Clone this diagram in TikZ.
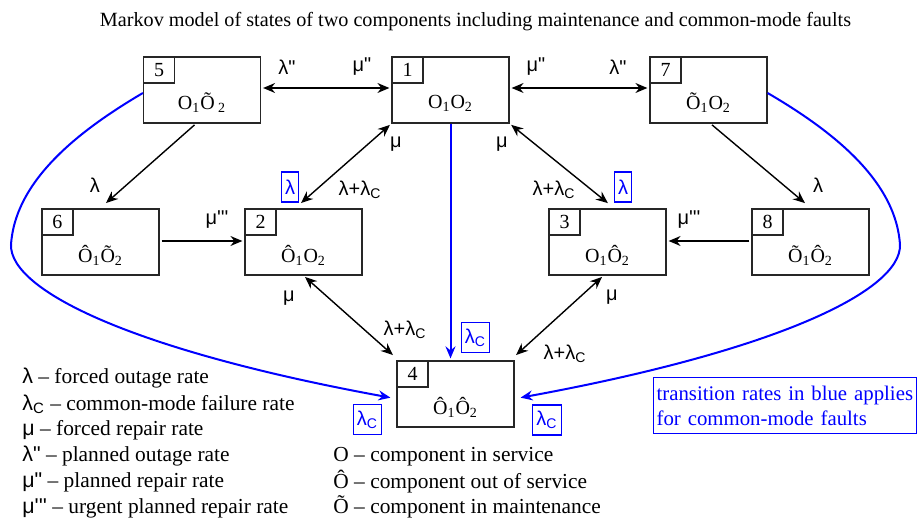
\documentclass[tikz,border=0pt]{standalone}
\usepackage{fontspec}
\setmainfont{Liberation Serif}
\newfontfamily\ratefont{Liberation Sans}[Ligatures=TeXOff]
\usetikzlibrary{arrows.meta,calc,positioning}

\tikzset{
  rtip/.tip={Stealth[length=6pt,width=5pt,inset=2pt]},
  state/.style={draw=black!85,line width=0.6pt,minimum width=58.5pt,minimum height=33pt,inner sep=0pt},
  statenum/.style={draw=black!85,line width=0.6pt,minimum width=15.5pt,minimum height=13pt,inner sep=0pt,anchor=north west},
  statename/.style={inner sep=0pt,yshift=-6.5pt},
  trans/.style={line width=0.7pt,-rtip,shorten >=1pt,shorten <=1pt},
  bitrans/.style={line width=0.7pt,rtip-rtip,shorten >=1pt,shorten <=1pt},
  cmtrans/.style={blue,line width=1pt,-rtip,shorten >=1pt},
  rate/.style={font=\ratefont,inner sep=0pt},
  cmrate/.style={font=\ratefont,draw=blue,text=blue,line width=0.6pt,inner sep=1.8pt,minimum height=15pt},
  legend/.style={anchor=west,inner sep=0pt,font=\fontsize{10.7}{12}\selectfont}
}

\begin{document}
\begin{tikzpicture}[x=0.5pt,y=-0.5pt]
                        \useasboundingbox (0,0) rectangle (917,518);
                        {\fontsize{10}{12}\selectfont

                        % Title
                        \node (title) at (475.5,22) {\fontsize{10.1}{12}\selectfont Markov model of states of two components including maintenance and common-mode faults};%

                        % Drawing states
                        \node [state] (s5) at (202,90) {};%
                        \node [state] (s1) at (450.5,90) {};%
                        \node [state] (s7) at (708.5,90) {};%
                        \node [state] (s6) at (100.5,242) {};%
                        \node [state] (s2) at (303.5,242) {};%
                        \node [state] (s3) at (607.5,242) {};%
                        \node [state] (s8) at (810.5,242) {};%
                        \node [state] (s4) at (455.5,394) {};%

                        % Numbering states
                        \node [statenum] (n5) at (s5.north west) {5};%
                        \node [statenum] (n1) at (s1.north west) {1};%
                        \node [statenum] (n7) at (s7.north west) {7};%
                        \node [statenum] (n6) at (s6.north west) {6};%
                        \node [statenum] (n2) at (s2.north west) {2};%
                        \node [statenum] (n3) at (s3.north west) {3};%
                        \node [statenum] (n8) at (s8.north west) {8};%
                        \node [statenum] (n4) at (s4.north west) {4};%

                        % Naming states
                        \node [statename] (t5) at (s5.center) {O\textsubscript{1}Õ\,\textsubscript{2}};%
                        \node [statename] (t1) at (s1.center) {O\textsubscript{1}O\textsubscript{2}};%
                        \node [statename] (t7) at (s7.center) {Õ\textsubscript{1}O\textsubscript{2}};%
                        \node [statename] (t6) at (s6.center) {Ô\textsubscript{1}Õ\textsubscript{2}};%
                        \node [statename] (t2) at (s2.center) {Ô\textsubscript{1}O\textsubscript{2}};%
                        \node [statename] (t3) at (s3.center) {O\textsubscript{1}Ô\textsubscript{2}};%
                        \node [statename] (t8) at (s8.center) {Õ\textsubscript{1}Ô\textsubscript{2}};%
                        \node [statename] (t4) at (s4.center) {Ô\textsubscript{1}Ô\textsubscript{2}};%

                        % Drawing transitions 5-1 and 1-7
                        \draw [bitrans] ([yshift=1pt]s5.east) -- ([yshift=1pt]s1.west);%
                        \draw [bitrans] ([yshift=1pt]s1.east) -- ([yshift=1pt]s7.west);%

                        % Drawing transitions 5-6 and 7-8
                        \draw [trans] ([xshift=-3pt]s5.south) -- ([xshift=2pt,yshift=2pt]s6.north);%
                        \draw [trans] ([xshift=1pt]s7.south) -- ([xshift=-2pt,yshift=2pt]s8.north);%

                        % Drawing transitions 6-2 and 8-3
                        \draw [trans] ([yshift=0.5pt]s6.east) -- ([yshift=0.5pt]s2.west);%
                        \draw [trans] ([yshift=0.5pt]s8.west) -- ([yshift=0.5pt]s3.east);%

                        % Drawing transitions 1-2 and 1-3
                        \draw [bitrans] (s1.south west) -- ([xshift=-2pt,yshift=2pt]s2.north);%
                        \draw [bitrans] (s1.south east) -- ([xshift=1pt,yshift=2pt]s3.north);%

                        % Drawing transitions 2-4 and 3-4
                        \draw [bitrans] (s2.south) -- ([xshift=-1pt,yshift=2pt]s4.north west);%
                        \draw [bitrans] ([xshift=-2pt]s3.south) -- ([yshift=2pt]s4.north east);%

                        % Drawing common-mode transitions
                        \draw [cmtrans] (s1.south) -- (s1.south |- s4.north);%
                        \draw [cmtrans] ([yshift=-1.5pt]s5.west) .. controls (80,130) and (15,180) .. (11,245)
                              .. controls (10,290) and (130,350) .. ([xshift=-2pt,yshift=-2pt]s4.west);%
                        \draw [cmtrans] ([yshift=-1.5pt]s7.east) .. controls (831,130) and (896,180) .. (900,245)
                              .. controls (901,290) and (781,350) .. ([xshift=2pt,yshift=-2pt]s4.east);%

                        % Marking rates
                        \node [rate] (r51) at (287,67) {λ"};%
                        \node [rate] (r15) at (362,67) {μ"};%
                        \node [rate] (r17) at (536,67) {μ"};%
                        \node [rate] (r71) at (618,67) {λ"};%
                        \node [rate] (r56) at (95,185) {λ};%
                        \node [rate] (r78) at (818,185) {λ};%
                        \node [rate] (r62) at (217,220) {μ'''};%
                        \node [rate] (r83) at (689,220) {μ'''};%
                        \node [rate] (r21) at (396,144) {μ};%
                        \node [rate] (r31) at (502,144) {μ};%
                        \node [rate] (r12) at (360,190) {λ+λ\textsubscript{C}};%
                        \node [rate] (r13) at (554,190) {λ+λ\textsubscript{C}};%
                        \node [rate] (r42) at (289,298) {μ};%
                        \node [rate] (r43) at (612,297) {μ};%
                        \node [rate] (r24) at (405,330) {λ+λ\textsubscript{C}};%
                        \node [rate] (r34) at (565,354) {λ+λ\textsubscript{C}};%

                        % Marking common-mode rates
                        \node [cmrate] (c12) at (290,187) {λ};%
                        \node [cmrate] (c13) at (623,187) {λ};%
                        \node [cmrate] (c14) at (475.5,337.5) {λ\textsubscript{C}};%
                        \node [cmrate] (c54) at (367.5,419.5) {λ\textsubscript{C}};%
                        \node [cmrate] (c74) at (547,420) {λ\textsubscript{C}};%

                        % Legend of rates
                        \node [legend] (l1) at (22,378) {{\ratefont λ} – forced outage rate};%
                        \node [legend] (l2) at (22,404) {{\ratefont λ\textsubscript{C}} – common-mode failure rate};%
                        \node [legend] (l3) at (22,430) {{\ratefont μ} – forced repair rate};%
                        \node [legend] (l4) at (22,456) {{\ratefont λ"} – planned outage rate};%
                        \node [legend] (l5) at (22,482) {{\ratefont μ"} – planned repair rate};%
                        \node [legend] (l6) at (22,508) {{\ratefont μ'''} – urgent planned repair rate};%

                        % Legend of states
                        \node [legend] (o1) at (333,457) {O – component in service};%
                        \node [legend] (o2) at (333,482) {Ô – component out of service};%
                        \node [legend] (o3) at (333,507) {Õ – component in maintenance};%

                        % Note on common-mode faults
                        \node [draw=blue,text=blue,line width=0.6pt,anchor=north west,minimum height=28pt,
                               align=left,inner xsep=1.5pt,inner ysep=2pt,text width=128.5pt,font=\fontsize{10.4}{12.5}\selectfont] (note) at (653,377)
                              {transition rates in blue applies\\for common-mode faults};%
                        }
\end{tikzpicture}
\end{document}
